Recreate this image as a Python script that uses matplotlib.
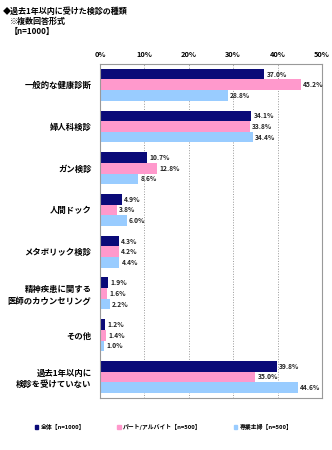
import matplotlib.pyplot as plt
import numpy as np

plt.rcParams['font.family'] = ['Noto Sans CJK JP', 'DejaVu Sans']

categories = ['一般的な健康診断', '婦人科検診', 'ガン検診', '人間ドック', 'メタボリック検診',
              '精神疾患に関する\n医師のカウンセリング', 'その他', '過去1年以内に\n検診を受けていない']
total = [37.0, 34.1, 10.7, 4.9, 4.3, 1.9, 1.2, 39.8]
part_time = [45.2, 33.8, 12.8, 3.8, 4.2, 1.6, 1.4, 35.0]
housewife = [28.8, 34.4, 8.6, 6.0, 4.4, 2.2, 1.0, 44.6]
series_names = ['全体【n=1000】', 'パート/アルバイト【n=500】', '専業主婦【n=500】']
colors = ['#0a0a78', '#ff99cc', '#99ccff']

fig = plt.figure(figsize=(3.32, 4.5), dpi=100)
ax = fig.add_axes([0.301, 0.116, 0.669, 0.742])

y = np.arange(len(categories))
h = 0.255
for i, (vals, c) in enumerate(zip([total, part_time, housewife], colors)):
    pos = y + (i - 1) * h
    ax.barh(pos, vals, height=h, color=c, edgecolor='none', zorder=2)
    for p, v in zip(pos, vals):
        ax.text(v + 0.5, p, '%.1f%%' % v, va='center', ha='left',
                fontsize=4.8, fontweight='bold', color='#222222')

ax.set_xlim(0, 50)
ax.set_ylim(len(categories) - 0.5, -0.5)
ax.xaxis.tick_top()
ax.set_xticks(np.arange(0, 51, 10))
ax.set_xticklabels(['%d%%' % t for t in range(0, 51, 10)], fontsize=5.3, fontweight='bold')
ax.tick_params(axis='x', length=0, pad=4)
ax.set_yticks(y)
ax.set_yticklabels(categories, fontsize=6, fontweight='bold', linespacing=1.3)
ax.tick_params(axis='y', length=0, pad=6)
ax.grid(axis='x', linestyle=':', color='#999999', linewidth=0.7, zorder=0)
for s in ax.spines.values():
    s.set_color('#999999')
    s.set_linewidth(0.8)

fig.text(0.01, 0.985, '◆過去1年以内に受けた検診の種類', fontsize=5.8, fontweight='bold', va='top')
fig.text(0.03, 0.962, '※複数回答形式', fontsize=5.8, fontweight='bold', va='top')
fig.text(0.03, 0.939, '【n=1000】', fontsize=5.8, fontweight='bold', va='top')

handles = [plt.Rectangle((0, 0), 1, 1, color=c) for c in colors]
fig.legend(handles, series_names, loc='center', bbox_to_anchor=(0.493, 0.051), ncol=3,
           frameon=False, handlelength=0.6, handleheight=0.6,
           columnspacing=5.5, handletextpad=0.4, prop={'weight': 'bold', 'size': 4.2})

fig.savefig('out.png', dpi=100)
